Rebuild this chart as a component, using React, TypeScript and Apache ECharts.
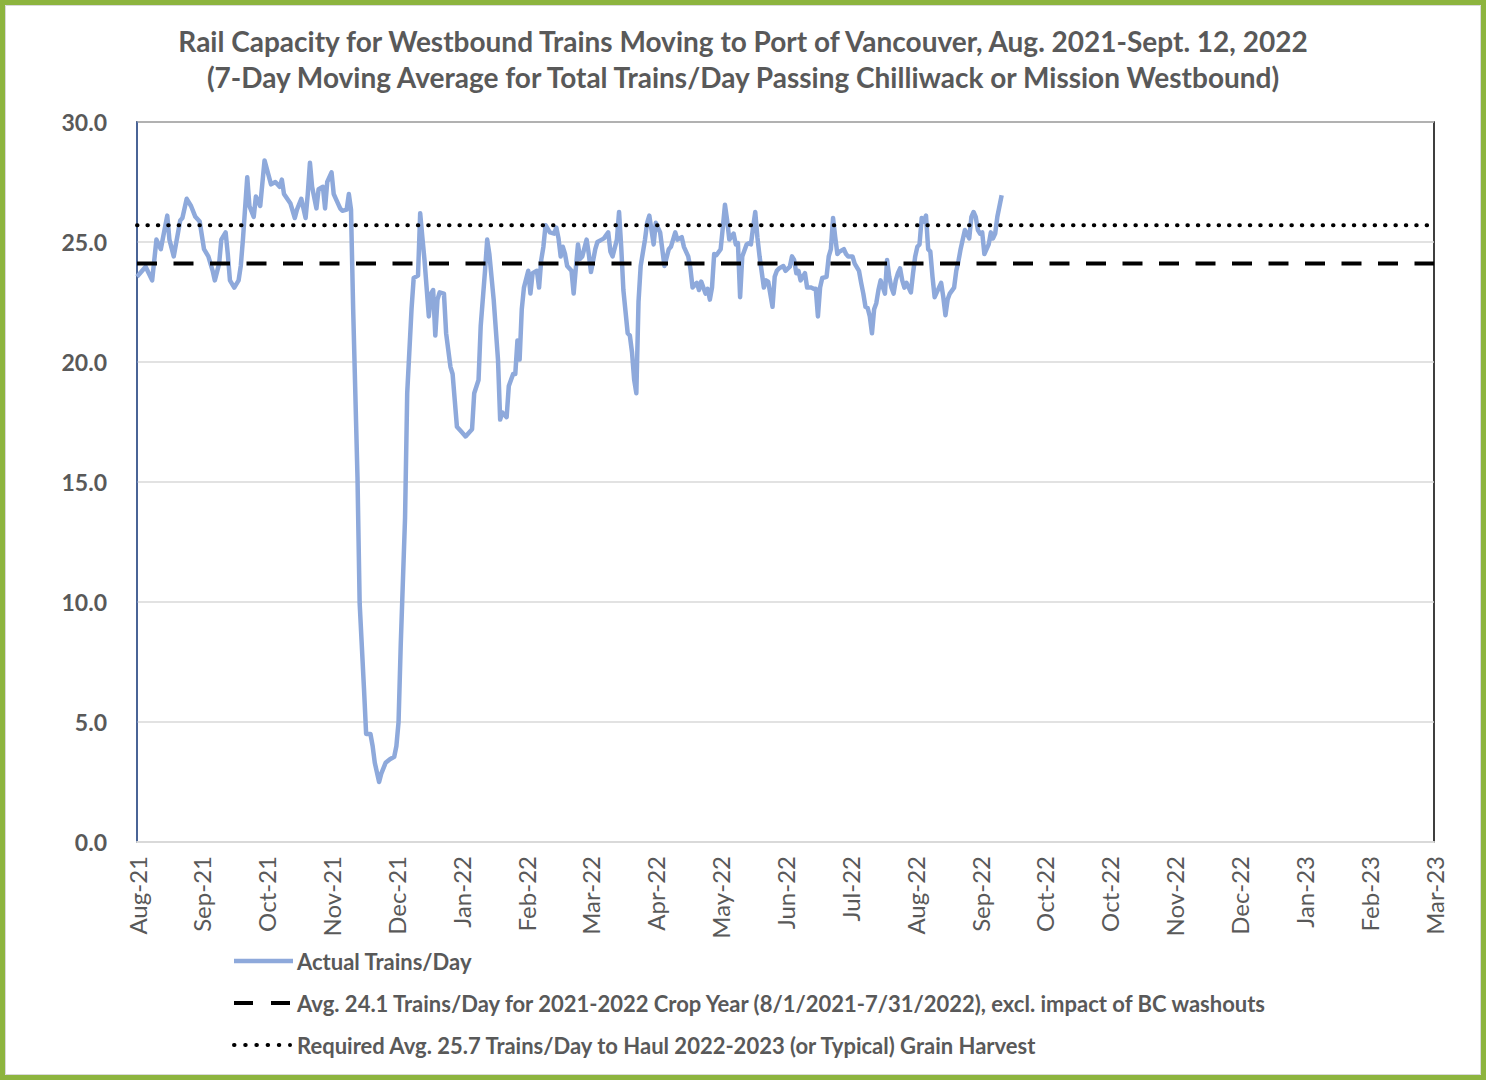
import React, { useEffect, useRef } from "react";
import * as echarts from "echarts";

// ---- Data ----
// x values are day offsets from the first 7-day average (7 Aug 2021)
const START_DATE_UTC = Date.UTC(2021, 7, 7);
const AXIS_MAX_DAYS = 600;
const AXIS_STEP_DAYS = 30;
const MONTHS = ["Jan", "Feb", "Mar", "Apr", "May", "Jun", "Jul", "Aug", "Sep", "Oct", "Nov", "Dec"];

const dayOffsets = [
  0, 4, 7, 9, 11, 14, 15, 17, 20, 21, 23, 25, 27, 29, 31, 33, 35, 36, 38, 39,
  41, 42, 43, 45, 47, 48, 49, 51, 52, 54, 55, 57, 59, 62, 64, 66, 67, 68, 71, 73,
  74, 76, 78, 79, 80, 81, 83, 84, 86, 87, 88, 90, 91, 92, 94, 95, 97, 98, 99, 100,
  102, 103, 105, 106, 108, 109, 110, 112, 113, 115, 117, 119, 120, 121, 122, 124, 125, 127, 128, 130,
  131, 132, 133, 135, 136, 137, 138, 139, 140, 142, 143, 145, 146, 147, 148, 150, 152, 155, 156, 158,
  159, 161, 162, 163, 165, 167, 168, 169, 171, 172, 174, 175, 176, 177, 178, 179, 181, 182, 183, 185,
  186, 187, 188, 189, 191, 193, 194, 195, 196, 197, 198, 199, 201, 202, 203, 204, 205, 206, 208, 209,
  210, 212, 213, 215, 216, 218, 219, 220, 222, 223, 224, 225, 227, 228, 229, 230, 231, 232, 233, 235,
  236, 237, 238, 239, 240, 242, 243, 244, 246, 247, 249, 250, 252, 253, 255, 256, 257, 259, 260, 261,
  263, 264, 265, 266, 267, 268, 270, 271, 272, 273, 274, 276, 277, 278, 279, 280, 282, 283, 284, 285,
  286, 287, 288, 290, 291, 292, 294, 295, 296, 297, 299, 300, 302, 303, 304, 305, 306, 307, 309, 310,
  312, 313, 314, 315, 316, 317, 319, 320, 321, 322, 323, 324, 325, 327, 328, 329, 331, 332, 334, 335,
  336, 337, 338, 339, 340, 341, 342, 343, 344, 346, 347, 348, 349, 350, 351, 352, 353, 354, 355, 356,
  358, 359, 360, 361, 362, 363, 364, 365, 366, 367, 368, 369, 371, 372, 373, 374, 375, 376, 378, 379,
  380, 381, 382, 383, 385, 386, 387, 388, 389, 390, 391, 392, 394, 395, 396, 397, 398, 400,
];

const trainsPerDay = [
  23.55, 23.97, 23.4, 25.1, 24.7, 26.1, 25.1, 24.4, 25.9, 26.0, 26.8, 26.5, 26.05, 25.85, 24.7, 24.4, 23.8, 23.4, 24.1, 25.1,
  25.4, 24.5, 23.4, 23.1, 23.4, 24.0, 25.1, 27.7, 26.5, 26.05, 26.9, 26.5, 28.4, 27.4, 27.5, 27.3, 27.6, 27.0, 26.6, 26.0,
  26.35, 26.8, 26.0, 27.0, 28.3, 27.3, 26.4, 27.2, 27.3, 26.4, 27.5, 27.9, 27.0, 26.8, 26.4, 26.3, 26.35, 27.0, 26.35, 22.2,
  15.2, 9.95, 6.4, 4.5, 4.5, 4.0, 3.3, 2.5, 2.85, 3.3, 3.45, 3.55, 4.0, 5.0, 8.2, 13.5, 18.7, 22.2, 23.5, 23.6,
  26.2, 25.2, 24.25, 21.9, 22.85, 23.0, 21.1, 22.6, 22.9, 22.85, 21.2, 19.8, 19.5, 18.4, 17.3, 17.1, 16.9, 17.2, 18.7, 19.25,
  21.5, 23.8, 25.1, 24.5, 22.6, 20.1, 17.6, 17.9, 17.7, 19.0, 19.5, 19.5, 20.9, 20.1, 22.2, 23.1, 23.8, 22.85, 23.7, 23.8,
  23.1, 24.25, 24.8, 25.7, 25.4, 25.35, 25.6, 25.15, 24.4, 24.8, 24.5, 24.0, 23.8, 22.85, 23.9, 24.9, 24.3, 24.4, 25.1, 24.5,
  23.75, 24.7, 25.0, 25.1, 25.15, 25.4, 24.6, 24.4, 25.1, 26.25, 24.8, 23.0, 21.2, 21.1, 20.4, 19.25, 18.7, 22.5, 24.0, 25.1,
  25.8, 26.1, 25.5, 24.9, 25.8, 25.4, 24.7, 24.0, 24.7, 24.8, 25.4, 25.1, 25.2, 24.8, 24.4, 23.9, 23.1, 23.3, 23.0, 23.35,
  22.85, 23.05, 22.6, 23.1, 24.5, 24.45, 24.7, 25.6, 26.55, 25.9, 25.1, 25.35, 24.9, 24.95, 22.7, 24.4, 24.9, 24.95, 24.9, 25.6,
  26.25, 25.2, 24.4, 23.1, 23.4, 23.35, 22.3, 23.55, 23.8, 23.9, 24.0, 23.8, 23.97, 24.4, 24.25, 23.7, 23.8, 23.4, 23.7, 23.1,
  23.1, 23.05, 23.05, 21.9, 23.1, 23.5, 23.55, 24.4, 24.7, 26.0, 25.2, 24.5, 24.6, 24.7, 24.5, 24.4, 24.4, 24.1, 23.8, 23.3,
  22.85, 22.3, 22.25, 21.9, 21.2, 22.2, 22.45, 23.0, 23.4, 22.85, 24.25, 23.55, 23.1, 22.85, 23.4, 23.7, 23.9, 23.4, 23.1, 23.3,
  22.9, 23.7, 24.4, 24.8, 24.9, 26.0, 25.85, 26.1, 24.7, 24.6, 23.55, 22.7, 23.1, 23.3, 22.7, 21.95, 22.6, 22.85, 23.1, 23.8,
  24.2, 24.7, 25.1, 25.5, 25.15, 26.05, 26.25, 26.05, 25.5, 25.35, 25.4, 24.5, 24.9, 25.4, 25.15, 25.35, 26.05, 26.95,
];

const cropYearAvg = 24.1;
const requiredAvg = 25.7;

const Y_MIN = 0;
const Y_MAX = 30;
const Y_STEP = 5;

const titleLines = [
  "Rail Capacity for Westbound Trains Moving to Port of Vancouver, Aug. 2021-Sept. 12, 2022",
  "(7-Day Moving Average for Total Trains/Day Passing Chilliwack or Mission Westbound)",
];

const seriesNames = [
  "Actual Trains/Day",
  "Avg. 24.1 Trains/Day for 2021-2022 Crop Year (8/1/2021-7/31/2022), excl. impact of BC washouts",
  "Required Avg. 25.7 Trains/Day to Haul 2022-2023 (or Typical) Grain Harvest",
];

const FONT = "Lato, 'Open Sans', sans-serif";
const TEXT_COLOR = "#595959";
const ACTUAL_COLOR = "#8EA9DB";
const FRAME_GREEN = "#8DB43E";

function formatMonth(v: number): string {
  const d = new Date(START_DATE_UTC + v * 86400000);
  return MONTHS[d.getUTCMonth()] + "-" + String(d.getUTCFullYear()).slice(2);
}

export default function App() {
  const ref = useRef<HTMLDivElement>(null);

  useEffect(() => {
    if (!ref.current) return;
    const chart = echarts.init(ref.current, null, { renderer: "svg" });

    const actualData = dayOffsets.map((d, i) => [d, trainsPerDay[i]]);
    const avgData = [[0, cropYearAvg], [AXIS_MAX_DAYS, cropYearAvg]];
    const reqData = [[0, requiredAvg], [AXIS_MAX_DAYS, requiredAvg]];

    const legendX1 = 234;
    const legendX2 = 290;
    const legendTextX = 297;
    const legendY = [961, 1003, 1045];

    chart.setOption({
      animation: false,
      backgroundColor: "#ffffff",
      title: {
        text: titleLines.join("\n"),
        left: "center",
        top: 18,
        textStyle: {
          fontFamily: FONT,
          fontWeight: "bold",
          fontSize: 28,
          lineHeight: 36,
          color: TEXT_COLOR,
        },
      },
      grid: {
        left: 137,
        right: 52,
        top: 122,
        bottom: 238,
        show: true,
        borderColor: "#000000",
        borderWidth: 1.5,
        backgroundColor: "transparent",
      },
      xAxis: {
        type: "value",
        min: 0,
        max: AXIS_MAX_DAYS,
        interval: AXIS_STEP_DAYS,
        axisLine: { show: true, lineStyle: { color: "#D9D9D9", width: 2 } },
        axisTick: { show: false },
        splitLine: { show: false },
        axisLabel: {
          rotate: 90,
          margin: 14,
          formatter: formatMonth,
          fontFamily: FONT,
          fontSize: 24,
          color: TEXT_COLOR,
          showMinLabel: true,
          showMaxLabel: true,
        },
      },
      yAxis: {
        type: "value",
        min: Y_MIN,
        max: Y_MAX,
        interval: Y_STEP,
        axisLine: { show: true, lineStyle: { color: "#4F72B5", width: 1.5 } },
        axisTick: { show: false },
        splitLine: { show: true, lineStyle: { color: "#D9D9D9", width: 1.5 } },
        axisLabel: {
          margin: 30,
          formatter: (v: number) => v.toFixed(1),
          fontFamily: FONT,
          fontWeight: "bold",
          fontSize: 23,
          color: TEXT_COLOR,
        },
      },
      series: [
        {
          name: seriesNames[0],
          type: "line",
          data: actualData,
          symbol: "none",
          showSymbol: false,
          lineStyle: { color: ACTUAL_COLOR, width: 4.5, join: "round" },
          z: 2,
        },
        {
          name: seriesNames[1],
          type: "line",
          data: avgData,
          symbol: "none",
          showSymbol: false,
          lineStyle: { color: "#000000", width: 4, type: [20, 16.5] },
          z: 3,
        },
        {
          name: seriesNames[2],
          type: "line",
          data: reqData,
          symbol: "none",
          showSymbol: false,
          lineStyle: { color: "#000000", width: 4, type: [0.5, 9.9], cap: "round" },
          z: 3,
        },
      ],
      graphic: [
        {
          type: "rect",
          silent: true,
          shape: { x: 2.5, y: 2.5, width: 1481, height: 1075 },
          style: { fill: "none", stroke: FRAME_GREEN, lineWidth: 5 },
          z: 10,
        },
        {
          type: "rect",
          silent: true,
          shape: { x: 5.5, y: 5.5, width: 1475, height: 1069 },
          style: { fill: "none", stroke: "#D9D9D9", lineWidth: 1 },
          z: 10,
        },
        {
          type: "line",
          silent: true,
          shape: { x1: legendX1, y1: legendY[0], x2: legendX2 + 3, y2: legendY[0] },
          style: { stroke: ACTUAL_COLOR, lineWidth: 4.5 },
        },
        {
          type: "line",
          silent: true,
          shape: { x1: legendX1, y1: legendY[1], x2: legendX2, y2: legendY[1] },
          style: { stroke: "#000000", lineWidth: 4, lineDash: [19, 18] },
        },
        {
          type: "line",
          silent: true,
          shape: { x1: legendX1, y1: legendY[2], x2: legendX2, y2: legendY[2] },
          style: { stroke: "#000000", lineWidth: 4, lineDash: [0.5, 10.7], lineCap: "round" },
        },
        ...seriesNames.map((name, i) => ({
          type: "text",
          silent: true,
          x: legendTextX,
          y: legendY[i],
          style: {
            text: name,
            fontFamily: FONT,
            fontWeight: "bold",
            fontSize: 22,
            fill: TEXT_COLOR,
            textVerticalAlign: "middle",
            verticalAlign: "middle",
          },
        })),
      ],
    });

    return () => chart.dispose();
  }, []);

  return (
    <div
      ref={ref}
      style={{ position: "fixed", left: 0, top: 0, width: 1486, height: 1080 }}
    />
  );
}
